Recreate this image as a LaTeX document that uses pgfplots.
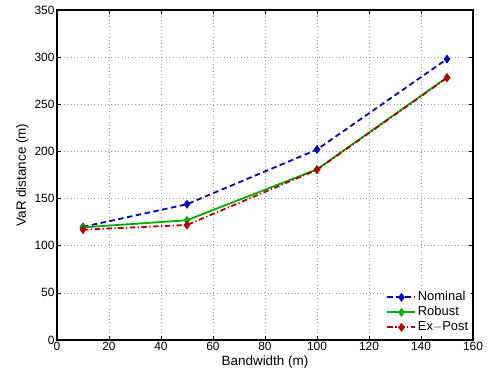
\documentclass[border=0pt]{standalone}
\usepackage{pgfplots}
\pgfplotsset{compat=1.18}
\usepackage{fontspec}
\setmainfont{Liberation Sans}
\definecolor{nomblue}{rgb}{0,0,0.75}
\definecolor{robgreen}{rgb}{0,0.68,0}
\definecolor{exred}{rgb}{0.7,0,0}
\begin{document}
\begin{tikzpicture}[x=1bp,y=1bp]
\path[use as bounding box] (-57bp,-39bp) rectangle (431bp,340bp);
\begin{axis}[
  at={(0,0)}, anchor=south west,
  scale only axis, width=416bp, height=330bp,
  xmin=0, xmax=160, ymin=0, ymax=350,
  xtick={0,20,...,160}, ytick={0,50,...,350},
  tick align=inside, major tick length=4bp,
  grid=major, major grid style={dash pattern=on 0.8bp off 2.6bp, gray!80, line width=0.6bp},
  axis line style={line width=1.1pt},
  tick style={black, line width=0.7pt},
  ticklabel style={font=\fontsize{12}{14}\selectfont},
  xticklabel style={yshift=1bp},
  yticklabel style={xshift=1bp},
  /pgf/number format/assume math mode=true,
  xlabel={Bandwidth (m)}, ylabel={VaR distance (m)},
  label style={font=\fontsize{13.5}{15}\selectfont},
  xlabel style={yshift=2bp},
  ylabel style={yshift=-1bp},
  legend style={draw=none, fill=white, font=\fontsize{13}{15}\selectfont, row sep=0bp, inner sep=1bp, at={(0.995,0.012)}, anchor=south east,
    nodes={inner sep=1.5bp, text height=9.5bp, text depth=2.5bp}},
  legend cell align=left,
  legend image code/.code={\draw[#1] (0bp,0bp) -- (14bp,0bp) -- (28bp,0bp); \draw[#1, only marks] plot coordinates {(14bp,0bp)};},
]
\addplot[nomblue, dash pattern=on 5.5bp off 3.5bp, line width=1.8pt, mark=diamond*, mark size=3bp, mark options={solid}] coordinates {(10,120) (50,144) (100,202) (150,298)};
\addlegendentry{Nominal}
\addplot[robgreen, line width=1.8pt, mark=diamond*, mark size=3bp] coordinates {(10,119.5) (50,127) (100,181) (150,278.5)};
\addlegendentry{Robust}
\addplot[exred, dash pattern=on 5.5bp off 2.5bp on 1.2bp off 2.5bp, line width=1.8pt, mark=diamond*, mark size=3bp, mark options={solid}] coordinates {(10,117) (50,122) (100,180.5) (150,278)};
\addlegendentry{Ex$-$Post}
\end{axis}
\end{tikzpicture}
\end{document}
